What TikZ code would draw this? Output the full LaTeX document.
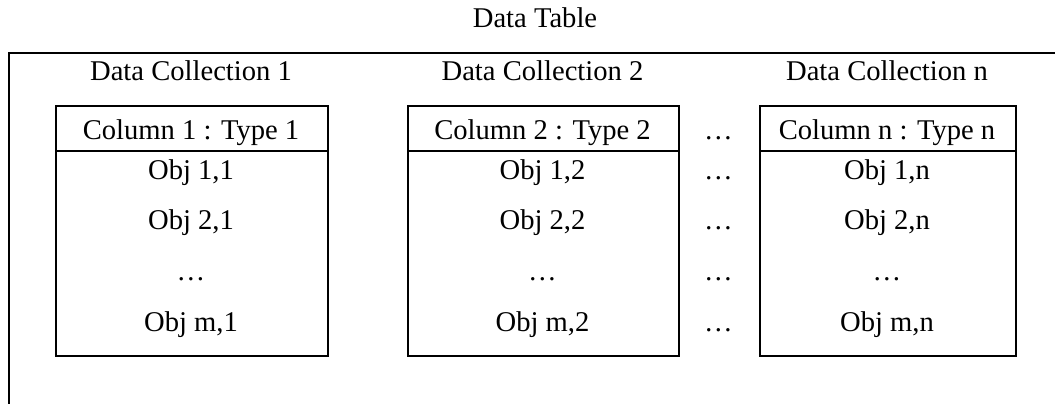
\documentclass[tikz,border=0pt]{standalone}
\usepackage{fontspec}
\setmainfont{Liberation Serif}
\begin{document}
\begin{tikzpicture}[x=1pt,y=1pt,
  txt/.style={inner sep=0pt, anchor=base, font=\fontsize{28.6}{34}\selectfont},
  colbox/.style={draw, line width=2pt, inner sep=0pt, anchor=north west,
                 minimum height=250pt},
  frame/.style={line width=2pt}]
\useasboundingbox (0,0) rectangle (1055,-404);

% outer table frame (open at right and bottom)
\coordinate (fb) at (9,-404);
\coordinate (ftl) at (9,-53);
\coordinate (ftr) at (1055,-53);
\draw[frame] (fb) -- (ftl) -- (ftr);

\node[txt] (title) at (535,-28) {Data Table};

% collection labels
\node[txt] (dc1) at (191,-81) {Data Collection 1};
\node[txt] (dc2) at (542.5,-81) {Data Collection 2};
\node[txt] (dcn) at (887,-81) {Data Collection n};

% column boxes
\node[colbox, minimum width=272pt] (b1) at (55,-105) {};
\node[colbox, minimum width=271pt] (b2) at (407,-105) {};
\node[colbox, minimum width=256pt] (b3) at (759,-105) {};

% header separators
\foreach \b in {b1,b2,b3}
  \draw[frame] (\b.west |- 0,-151) -- (\b.east |- 0,-151);

% headers
\node[txt] (h1) at (191,-139) {Column 1 : Type 1};
\node[txt] (h2) at (542.5,-139) {Column 2 : Type 2};
\node[txt] (h3) at (887,-139) {Column n : Type n};

% column 1 cells
\node[txt] (o11) at (191,-179) {Obj 1,1};
\node[txt] (o21) at (191,-229) {Obj 2,1};
\node[txt] (e1)  at (191,-280) {…};
\node[txt] (om1) at (191,-331) {Obj m,1};

% column 2 cells
\node[txt] (o12) at (542.5,-179) {Obj 1,2};
\node[txt] (o22) at (542.5,-229) {Obj 2,2};
\node[txt] (e2)  at (542.5,-280) {…};
\node[txt] (om2) at (542.5,-331) {Obj m,2};

% column n cells
\node[txt] (o1n) at (887,-179) {Obj 1,n};
\node[txt] (o2n) at (887,-229) {Obj 2,n};
\node[txt] (en)  at (887,-280) {…};
\node[txt] (omn) at (887,-331) {Obj m,n};

% gap between column 2 and column n
\node[txt] (g0) at (718.5,-139) {…};
\node[txt] (g1) at (718.5,-179) {…};
\node[txt] (g2) at (718.5,-229) {…};
\node[txt] (g3) at (718.5,-280) {…};
\node[txt] (g4) at (718.5,-331) {…};
\end{tikzpicture}
\end{document}
